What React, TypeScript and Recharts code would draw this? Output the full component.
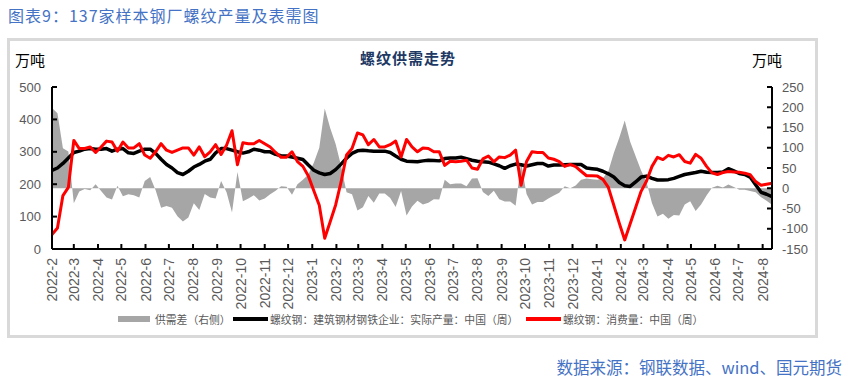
import React from 'react';
import { ComposedChart, Area, Line, XAxis, YAxis } from 'recharts';

// weekly data, first week 2022-02-03
const START = Date.UTC(2022, 1, 3);

// 螺纹钢：建筑钢材钢铁企业：实际产量：中国（周），万吨
const production = [
  243, 250, 264, 281, 298, 302, 308, 310, 308, 308,
  310, 302, 308, 310, 297, 295, 302, 308, 308, 295,
  277, 261, 250, 236, 230, 240, 253, 261, 271, 277,
  297, 310, 310, 305, 300, 296, 300, 308, 305, 300,
  300, 292, 288, 287, 284, 280, 276, 259, 243, 235,
  230, 233, 245, 262, 280, 295, 303, 305, 303, 302,
  302, 302, 298, 287, 277, 271, 270, 269, 272, 274,
  273, 272, 279, 281, 281, 283, 279, 274, 271, 269,
  268, 263, 257, 249, 257, 262, 260, 256, 260, 264,
  264, 256, 259, 259, 260, 261, 261, 261, 250, 248,
  246, 240, 232, 222, 205, 195, 193, 207, 222, 225,
  218, 213, 213, 214, 218, 224, 230, 233, 236, 240,
  237, 236, 236, 238, 248, 241, 233, 230, 222, 198,
  175, 169, 162,
];

// 螺纹钢：消费量：中国（周），万吨
const consumption = [
  45, 65, 165, 190, 335, 310, 310, 315, 298, 315,
  333, 330, 302, 330, 312, 312, 325, 290, 280, 300,
  325, 305, 298, 305, 312, 312, 290, 315, 285, 300,
  322, 292, 320, 365, 260, 328, 325, 325, 335, 325,
  315, 298, 283, 283, 300, 270, 255, 225, 180, 135,
  33, 84, 136, 207, 290, 310, 358, 352, 322, 338,
  315, 315, 322, 333, 284, 338, 315, 300, 312, 310,
  300, 300, 258, 271, 269, 271, 274, 250, 246, 278,
  287, 269, 284, 282, 290, 305, 197, 270, 300, 298,
  298, 281, 277, 270, 255, 261, 254, 240, 226, 226,
  225, 215, 190, 135, 80, 28, 78, 128, 178, 210,
  255, 283, 276, 289, 284, 291, 270, 265, 292, 280,
  255, 235, 230, 236, 239, 238, 237, 234, 229, 208,
  197, 200, 203,
];

const monthLabels = [
  '2022-2', '2022-3', '2022-4', '2022-5', '2022-6', '2022-7', '2022-8',
  '2022-9', '2022-10', '2022-11', '2022-12', '2023-1', '2023-2', '2023-3',
  '2023-4', '2023-5', '2023-6', '2023-7', '2023-8', '2023-9', '2023-10',
  '2023-11', '2023-12', '2024-1', '2024-2', '2024-3', '2024-4', '2024-5',
  '2024-6', '2024-7', '2024-8',
];

const leftTicks = [0, 100, 200, 300, 400, 500];
const rightTicks = [-150, -100, -50, 0, 50, 100, 150, 200, 250];

const DAY = 86400000;
const monthTicks = monthLabels.map((l) => {
  const [y, m] = l.split('-').map(Number);
  return (Date.UTC(y, m - 1, 3) - START) / DAY;
});
const tickLabel = new Map(monthTicks.map((d, i) => [d, monthLabels[i]]));

const data = production.map((p, i) => ({
  day: i * 7,
  production: p,
  consumption: consumption[i],
  gap: p - consumption[i], // 供需差 = 产量 - 消费量
}));
const lastDay = (production.length - 1) * 7;

const AXIS_FONT = '"Liberation Sans", Arial, sans-serif';
const CJK_FONT = '"Noto Sans CJK SC", "Noto Sans", sans-serif';
const LABEL_COLOR = '#595959';

const LeftTick = ({ x, y, payload }: any) => (
  <g>
    <line x1={x} x2={x + 5} y1={y} y2={y} stroke="#000" strokeWidth={2} />
    <text x={x - 11} y={y} textAnchor="end" dominantBaseline="central"
      fontSize={13} fontFamily={AXIS_FONT} fill={LABEL_COLOR}>
      {payload.value}
    </text>
  </g>
);

const RightTick = ({ x, y, payload }: any) => (
  <g>
    <line x1={x} x2={x - 5} y1={y} y2={y} stroke="#000" strokeWidth={2} />
    <text x={x + 10} y={y} textAnchor="start" dominantBaseline="central"
      fontSize={13} fontFamily={AXIS_FONT} fill={LABEL_COLOR}>
      {payload.value}
    </text>
  </g>
);

const BottomTick = ({ x, y, payload }: any) => {
  const ty = y + 9;
  return (
    <g>
      <line x1={x} x2={x} y1={y} y2={y - 5} stroke="#000" strokeWidth={2} />
      <text x={x} y={ty} transform={`rotate(-90 ${x} ${ty})`} textAnchor="end"
        dominantBaseline="central" fontSize={14} fontFamily={AXIS_FONT} fill={LABEL_COLOR}>
        {tickLabel.get(payload.value)}
      </text>
    </g>
  );
};

const legendText: React.CSSProperties = {
  position: 'absolute',
  top: 311,
  fontSize: 10.8,
  lineHeight: '16px',
  color: LABEL_COLOR,
  whiteSpace: 'nowrap',
};

const ChartLegend = () => (
  <>
    <div style={{ position: 'absolute', left: 118, top: 316, width: 32, height: 6, background: '#A6A6A6' }} />
    <div style={{ ...legendText, left: 155 }}>供需差（右侧）</div>
    <div style={{ position: 'absolute', left: 233, top: 317, width: 35, height: 4, background: '#000' }} />
    <div style={{ ...legendText, left: 270 }}>螺纹钢：建筑钢材钢铁企业：实际产量：中国（周）</div>
    <div style={{ position: 'absolute', left: 526, top: 317, width: 35, height: 4, background: '#FF0000' }} />
    <div style={{ ...legendText, left: 563 }}>螺纹钢：消费量：中国（周）</div>
  </>
);

export default function App() {
  return (
    <div style={{ position: 'absolute', left: 0, top: 0, width: 848, height: 384, background: '#fff', fontFamily: CJK_FONT }}>
      <div style={{ position: 'absolute', left: 8, top: 4, fontSize: 16, lineHeight: '22px', letterSpacing: 1, color: '#4472C4', whiteSpace: 'nowrap' }}>
        图表9：137家样本钢厂螺纹产量及表需图
      </div>
      <div style={{ position: 'absolute', left: 7, top: 38, width: 811, height: 300, border: '3px solid #D9D9D9', boxSizing: 'border-box' }} />

      <div style={{ position: 'absolute', left: 0, top: 0 }}>
        <ComposedChart width={848} height={384} data={data} margin={{ top: 87, right: 0, bottom: 0, left: 0 }}>
          <XAxis
            type="number"
            dataKey="day"
            domain={[0, lastDay]}
            ticks={monthTicks}
            interval={0}
            height={135}
            tickSize={0}
            tickMargin={0}
            tickLine={false}
            axisLine={{ stroke: '#000', strokeWidth: 2 }}
            tick={<BottomTick />}
          />
          <YAxis
            yAxisId="left"
            orientation="left"
            domain={[0, 500]}
            ticks={leftTicks}
            interval={0}
            width={52}
            tickSize={0}
            tickMargin={0}
            tickLine={false}
            axisLine={{ stroke: '#000', strokeWidth: 2 }}
            tick={<LeftTick />}
          />
          <YAxis
            yAxisId="right"
            orientation="right"
            domain={[-150, 250]}
            ticks={rightTicks}
            interval={0}
            width={76}
            tickSize={0}
            tickMargin={0}
            tickLine={false}
            axisLine={{ stroke: '#000', strokeWidth: 2 }}
            tick={<RightTick />}
          />
          <Area
            yAxisId="right"
            type="linear"
            dataKey="gap"
            baseValue={0}
            fill="#A6A6A6"
            fillOpacity={1}
            stroke="none"
            isAnimationActive={false}
          />
          <Line
            yAxisId="left"
            type="linear"
            dataKey="production"
            stroke="#000"
            strokeWidth={3.5}
            dot={false}
            strokeLinejoin="round"
            isAnimationActive={false}
          />
          <Line
            yAxisId="left"
            type="linear"
            dataKey="consumption"
            stroke="#FF0000"
            strokeWidth={3}
            dot={false}
            strokeLinejoin="round"
            isAnimationActive={false}
          />
        </ComposedChart>
      </div>

      <div style={{ position: 'absolute', left: 15, top: 50, fontSize: 15, lineHeight: '20px', color: '#000' }}>万吨</div>
      <div style={{ position: 'absolute', left: 752, top: 50, fontSize: 15, lineHeight: '20px', color: '#000' }}>万吨</div>
      <div style={{ position: 'absolute', left: 360, top: 48, fontSize: 15, lineHeight: '20px', fontWeight: 700, letterSpacing: 1, color: '#203864' }}>
        螺纹供需走势
      </div>

      <ChartLegend />

      <div style={{ position: 'absolute', right: 6, top: 356, fontSize: 16.5, lineHeight: '22px', color: '#4472C4', whiteSpace: 'nowrap' }}>
        数据来源：钢联数据、wind、国元期货
      </div>
    </div>
  );
}
